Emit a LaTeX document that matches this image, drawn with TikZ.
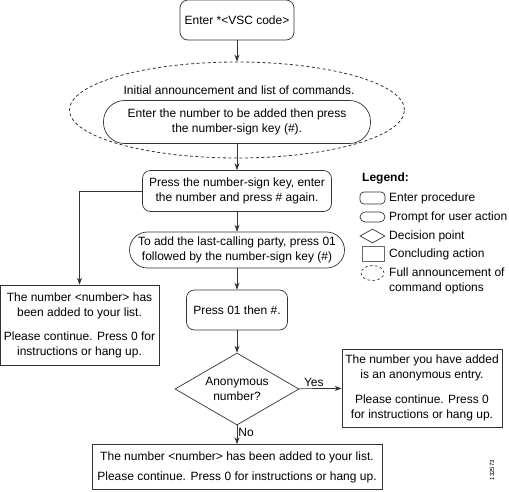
\documentclass[tikz,border=0pt]{standalone}
\usepackage{fontspec}
\setmainfont{Liberation Sans}
\usetikzlibrary{arrows.meta,shapes.geometric}

\begin{document}
\begin{tikzpicture}
[
x=1pt, y=-1pt,
font=\fontsize{12}{15}\selectfont,
enterbox/.style={rectangle, draw=black!80, line width=0.7pt, rounded corners=8pt, inner sep=0pt, align=center},
promptbox/.style={rectangle, draw=black!80, line width=0.7pt, rounded corners=18pt, inner sep=0pt, align=center},
endbox/.style={rectangle, draw=black!80, line width=0.7pt, inner sep=0pt, align=center},
decision/.style={diamond, draw=black!80, line width=0.7pt, inner sep=0pt, aspect=1.72, minimum width=124pt, minimum height=72pt, align=center},
announce/.style={ellipse, draw=black!80, line width=0.8pt, dash pattern=on 3pt off 2.5pt},
flow/.style={-{Stealth[length=7pt,width=5pt]}, line width=0.7pt, draw=black!80},
keyicon/.style={draw=black!80, line width=0.7pt, inner sep=0pt},
keytext/.style={anchor=west, inner sep=0pt}
]
\useasboundingbox (0,0) rectangle (509,491);

%Nodes
\node[enterbox, minimum width=114pt, minimum height=40pt]	(enter) at(237,20) {Enter *<VSC code>};
\node[announce, minimum width=335pt, minimum height=96pt]	(announce) at(237,110) {};
\node[]	(intro) at(239,90) {Initial announcement and list of commands.};
\node[promptbox, minimum width=267pt, minimum height=43pt, rounded corners=21pt]	(enternum) at(237,122) {Enter the number to be added then press\\the number-sign key (\#).};
\node[enterbox, minimum width=189pt, minimum height=41pt]	(presskey) at(237,191) {Press the number-sign key, enter\\the number and press \# again.};
\node[promptbox, minimum width=215pt, minimum height=36pt]	(lastparty) at(237,250) {To add the last-calling party, press 01\\followed by the number-sign key (\#)};
\node[enterbox, minimum width=101pt, minimum height=40pt]	(press01) at(237,310) {Press 01 then \#.};
\node[decision]	(anon) at(237,389) {Anonymous\\number?};
\node[endbox, minimum width=160pt, minimum height=78pt]	(anonentry) at(422,388) {The number you have added\\is an anonymous entry.\\[10pt]Please continue. Press 0\\for instructions or hang up.};
\node[endbox, minimum width=159pt, minimum height=80pt]	(added) at(79.5,325) {The number <number> has\\been added to your list.\\[9pt]Please continue. Press 0 for\\instructions or hang up.};
\node[endbox, minimum width=290pt, minimum height=45pt]	(final) at(237,467) {The number <number> has been added to your list.\\[5pt]Please continue. Press 0 for instructions or hang up.};

%Legend
\node[keytext]	(legend) at(362,178) {\textbf{Legend:}};
\node[keyicon, rounded corners=4pt, minimum width=25pt, minimum height=12pt]	(keyenter) at(372.5,198) {};
\node[keytext]	(keyentertxt) at(389,198) {Enter procedure};
\node[keyicon, rounded corners=5pt, minimum width=25pt, minimum height=10pt]	(keyprompt) at(372.5,217) {};
\node[keytext]	(keyprompttxt) at(389,217) {Prompt for user action};
\node[keyicon, diamond, aspect=1.8, minimum width=25pt, minimum height=14pt]	(keydecision) at(372.5,236) {};
\node[keytext]	(keydecisiontxt) at(389,236) {Decision point};
\node[keyicon, draw=black!60, minimum width=22pt, minimum height=15pt]	(keyend) at(373,254) {};
\node[keytext]	(keyendtxt) at(389,254) {Concluding action};
\node[keyicon, ellipse, dash pattern=on 2.5pt off 2.5pt, minimum width=23pt, minimum height=15pt]	(keyannounce) at(372.5,273) {};
\node[keytext, align=left]	(keyannouncetxt) at(389,280.5) {Full announcement of\\command options};

\node[rotate=90, font=\fontsize{6}{7}\selectfont]	(figid) at(492,470) {132573};

%Connectors
\draw[flow] (enter) -- (announce);
\draw[flow] (enternum) -- (presskey);
\draw[flow] (presskey.west) -| (added.north);
\draw[flow] (presskey) -- (lastparty);
\draw[flow] (lastparty) -- (press01);
\draw[flow] (press01) -- (anon);
\draw[flow] (anon) -- node[pos=0.35, above, inner sep=2pt] {Yes} (anonentry);
\draw[flow] (anon) -- node[pos=0.35, right, inner sep=1pt] {No} (final);

\end{tikzpicture}
\end{document}
